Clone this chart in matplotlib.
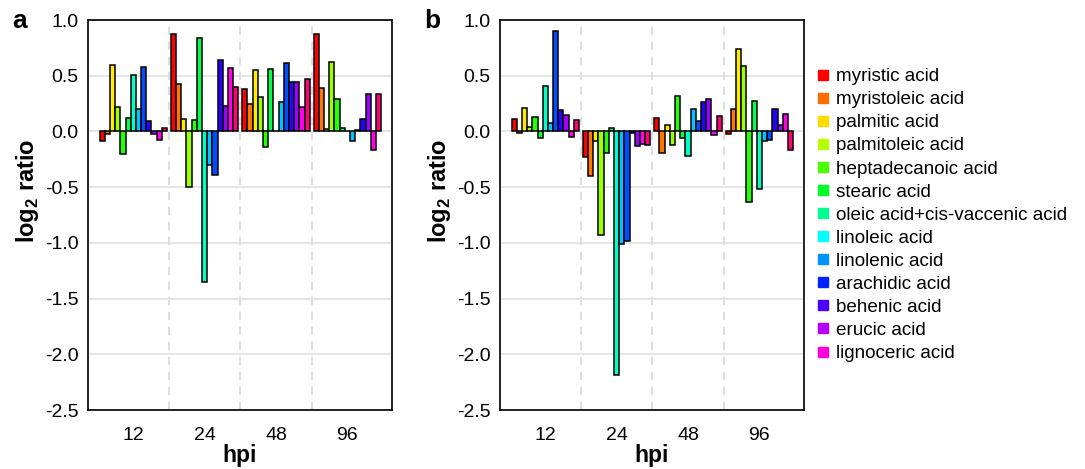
import numpy as np
import matplotlib
matplotlib.use("Agg")
import matplotlib.pyplot as plt
from matplotlib.colors import hsv_to_rgb
from matplotlib.lines import Line2D

plt.rcParams['font.family'] = ['Liberation Sans', 'DejaVu Sans']
plt.rcParams['axes.unicode_minus'] = False
plt.rcParams['mathtext.fontset'] = 'custom'
plt.rcParams['mathtext.bf'] = 'Liberation Sans:bold'

acids = ["myristic acid", "myristoleic acid", "palmitic acid", "palmitoleic acid",
         "heptadecanoic acid", "stearic acid", "oleic acid+cis-vaccenic acid",
         "linoleic acid", "linolenic acid", "arachidic acid", "behenic acid",
         "erucic acid", "lignoceric acid"]
hpi = ["12", "24", "48", "96"]

# panel a: rows = hpi, columns = acids
vals_a = [
    [-0.09, -0.02, 0.60, 0.22, -0.20, 0.12, 0.51, 0.20, 0.58, 0.09, -0.02, -0.08, 0.03],
    [0.87, 0.43, 0.11, -0.50, 0.10, 0.84, -1.35, -0.30, -0.39, 0.64, 0.23, 0.57, 0.40],
    [0.38, 0.25, 0.55, 0.31, -0.14, 0.56, 0.0, 0.26, 0.61, 0.44, 0.44, 0.22, 0.47],
    [0.87, 0.39, 0.02, 0.62, 0.29, 0.03, 0.0, -0.09, 0.01, 0.11, 0.34, -0.17, 0.34],
]
# panel b
vals_b = [
    [0.11, -0.01, 0.21, 0.04, 0.13, -0.06, 0.41, 0.08, 0.90, 0.19, 0.15, -0.05, 0.10],
    [-0.23, -0.40, -0.09, -0.93, -0.19, 0.03, -2.19, -1.01, -0.98, -0.01, -0.13, -0.11, -0.12],
    [0.12, -0.19, 0.06, -0.12, 0.32, -0.06, -0.22, 0.20, 0.09, 0.26, 0.29, -0.03, 0.14],
    [-0.02, 0.20, 0.74, 0.59, -0.63, 0.27, -0.52, -0.09, -0.08, 0.20, 0.06, 0.16, -0.17],
]

n = len(acids)
bar_colors = [hsv_to_rgb((i / 13, 1, 1)) for i in range(n)]
legend_colors = [hsv_to_rgb((i / 14, 1, 1)) for i in range(n)]

fig = plt.figure(figsize=(10.85, 4.69), dpi=100)
W, H = 1085, 469


def panel(left, data, letter):
    ax = fig.add_axes([left / W, 59 / H, 304 / W, 390 / H])
    data = np.array(data)
    w = 0.0728
    x = np.arange(len(hpi))
    for i in range(n):
        ax.bar(x + (i - 6) * w, data[:, i], width=w, color=bar_colors[i],
               edgecolor='black', linewidth=1.1, zorder=3)
    ax.set_xlim(-0.635, 3.625)
    ax.set_ylim(-2.5, 1.0)
    ax.set_yticks(np.arange(-2.5, 1.01, 0.5))
    ax.set_yticklabels([f"{v:.1f}" for v in np.arange(-2.5, 1.01, 0.5)])
    ax.yaxis.grid(True, color='#e0e0e0', linewidth=1.2, zorder=0)
    for s in [0.5, 1.5, 2.5]:
        ax.axvline(s, color='#d8d8d8', linestyle=(0, (5, 4)), linewidth=1.2, zorder=1)
    ax.set_xticks(x)
    ax.set_xticklabels(hpi)
    ax.tick_params(axis='y', length=0, labelsize=14, pad=7)
    ax.tick_params(axis='x', length=0, labelsize=14, pad=12)
    for sp in ax.spines.values():
        sp.set_linewidth(1.2)
    ax.set_xlabel("hpi", fontsize=16.5, fontweight='bold', labelpad=0)
    ax.set_ylabel(r"log$_\mathbf{2}$ ratio", fontsize=17, fontweight='bold')
    ax.yaxis.set_label_coords(-0.155, 0.562)
    fig.text((left - 76) / W, 1 - 21 / H, letter, fontsize=19, fontweight='bold', va='center')
    return ax


panel(88, vals_a, "a")
panel(500, vals_b, "b")

handles = [Line2D([], [], marker='s', linestyle='', color=c, markersize=7.5) for c in legend_colors]
fig.legend(handles, acids, loc='upper left', bbox_to_anchor=(814 / W, 1 - 68 / H),
           frameon=False, fontsize=13.6, labelspacing=0.31, handletextpad=0.25,
           handlelength=0.9, borderaxespad=0, borderpad=0)

fig.savefig("out.png", dpi=100)
